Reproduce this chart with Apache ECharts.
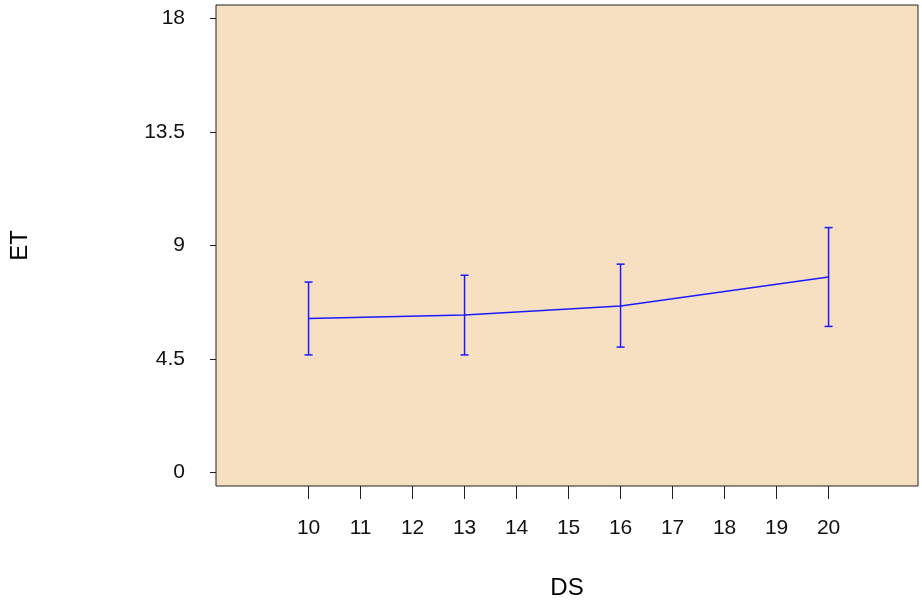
<!DOCTYPE html>
<html lang="en">
  <head>
    <meta charset="UTF-8" />
    <title>ET vs DS</title>
    <script src="https://cdn.jsdelivr.net/npm/echarts@6.0.0/dist/echarts.min.js"></script>
    <style>
      html, body { margin: 0; padding: 0; background: #fff; }
    </style>
  </head>
  <body>
    <div id="chart" style="width: 922px; height: 605px"></div>
    <script>
      // values
      const dsValues = [10, 13, 16, 20];
      const etMeans = [6.1, 6.24, 6.6, 7.75];
      const etLower = [4.66, 4.66, 4.97, 5.79];
      const etUpper = [7.55, 7.82, 8.26, 9.71];
      const xTicks = [10, 11, 12, 13, 14, 15, 16, 17, 18, 19, 20];
      const yTicks = [0, 4.5, 9, 13.5, 18];

      const chart = echarts.init(document.getElementById("chart"));
      const font = "Liberation Sans, Arial, sans-serif";
      const blue = "#1a1aff";

      const meanData = dsValues.map((x, i) => [x, etMeans[i]]);
      const barData = dsValues.map((x, i) => [x, etLower[i], etUpper[i]]);

      const option = {
        animation: false,
        grid: {
          left: 215,
          top: 5,
          right: 4,
          bottom: 118,
          show: true,
          backgroundColor: "#f7dfc2",
          borderColor: "#222",
          borderWidth: 1,
        },
        xAxis: {
          type: "value",
          min: 8.22,
          max: 21.72,
          name: "DS",
          nameLocation: "middle",
          nameGap: 90,
          nameTextStyle: { fontFamily: font, fontSize: 24, color: "#000" },
          axisLine: { show: false, onZero: false },
          splitLine: { show: false },
          axisTick: {
            show: true,
            inside: false,
            length: 13,
            customValues: xTicks,
            lineStyle: { color: "#222" },
          },
          axisLabel: {
            customValues: xTicks,
            margin: 32,
            fontFamily: font,
            fontSize: 21,
            color: "#111",
          },
        },
        yAxis: {
          type: "value",
          min: -0.54,
          max: 18.54,
          name: "ET",
          nameLocation: "middle",
          nameGap: 184,
          nameTextStyle: { fontFamily: font, fontSize: 24, color: "#000" },
          axisLine: { show: false, onZero: false },
          splitLine: { show: false },
          axisTick: {
            show: true,
            inside: false,
            length: 6,
            customValues: yTicks,
            lineStyle: { color: "#222" },
          },
          axisLabel: {
            customValues: yTicks,
            margin: 31,
            fontFamily: font,
            fontSize: 21,
            color: "#111",
          },
        },
        series: [
          {
            type: "line",
            data: meanData,
            symbol: "none",
            lineStyle: { color: blue, width: 1.5 },
          },
          {
            type: "custom",
            data: barData,
            renderItem: function (params, api) {
              const x = api.value(0);
              const lo = api.coord([x, api.value(1)]);
              const hi = api.coord([x, api.value(2)]);
              const cap = 4;
              const style = { stroke: blue, lineWidth: 1.5 };
              return {
                type: "group",
                children: [
                  { type: "line", shape: { x1: lo[0], y1: lo[1], x2: hi[0], y2: hi[1] }, style: style },
                  { type: "line", shape: { x1: lo[0] - cap, y1: lo[1], x2: lo[0] + cap, y2: lo[1] }, style: style },
                  { type: "line", shape: { x1: hi[0] - cap, y1: hi[1], x2: hi[0] + cap, y2: hi[1] }, style: style },
                ],
              };
            },
          },
        ],
      };

      chart.setOption(option);
    </script>
  </body>
</html>
